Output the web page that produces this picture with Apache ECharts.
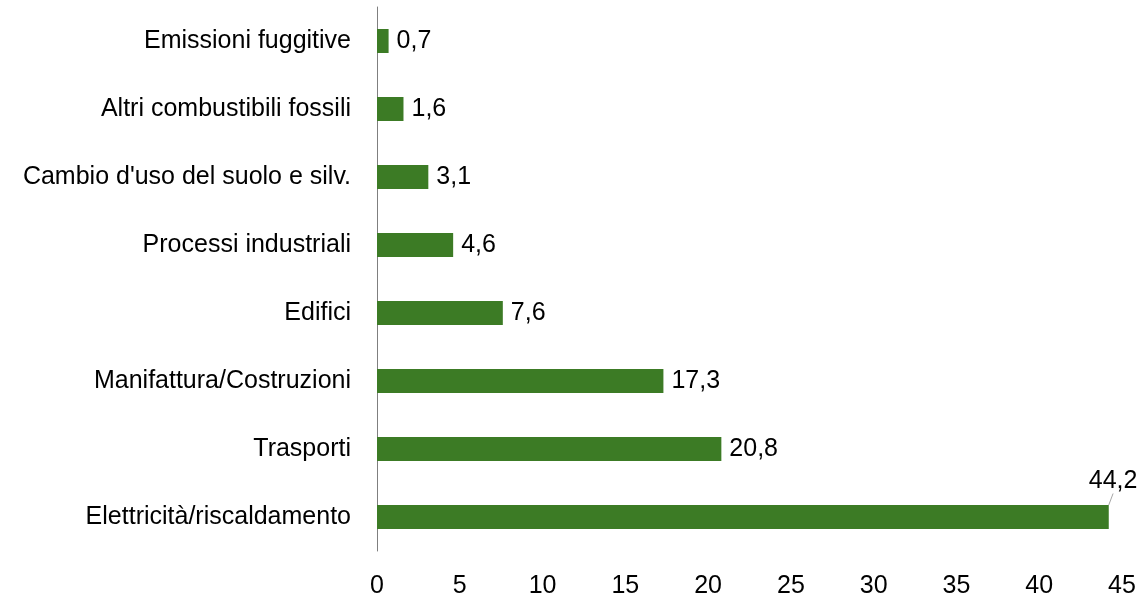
<!DOCTYPE html>
<html>
<head>
	<meta charset="utf-8">
	<title></title>
	<style>
		html, body { margin: 0; padding: 0; background: #fff; }
		#chart { width: 1145px; height: 603px; }
	</style>
</head>
<body>
<div id="chart"></div>
<script src="https://cdn.jsdelivr.net/npm/echarts@6/dist/echarts.min.js"></script>
<script type="text/javascript">
	// categories from bottom to top (as ECharts draws the y axis)
	var categories = ['Elettricità/riscaldamento', 'Trasporti', 'Manifattura/Costruzioni', 'Edifici',
		'Processi industriali', "Cambio d'uso del suolo e silv.", 'Altri combustibili fossili', 'Emissioni fuggitive'];
	var values = [44.2, 20.8, 17.3, 7.6, 4.6, 3.1, 1.6, 0.7];
	var xTicks = [0, 5, 10, 15, 20, 25, 30, 35, 40, 45];

	var font = "'Liberation Sans', Arial, sans-serif";

	var chart = echarts.init(document.getElementById('chart'), null, {renderer: 'canvas'});
	chart.setOption({
		animation: false,
		grid: { left: 377, right: 23, top: 7, bottom: 52 },
		xAxis: {
			type: 'value',
			min: xTicks[0],
			max: xTicks[xTicks.length - 1],
			interval: 5,
			axisLine: { show: false },
			axisTick: { show: false },
			splitLine: { show: false },
			axisLabel: { color: '#000', fontSize: 25, fontFamily: font, margin: 23 }
		},
		yAxis: {
			type: 'category',
			data: categories,
			axisLine: { show: true, lineStyle: { color: '#7f7f7f', width: 1 } },
			axisTick: { show: false },
			axisLabel: { color: '#000', fontSize: 25, fontFamily: font, margin: 26, padding: [3, 0, 0, 0] }
		},
		series: [{
			type: 'bar',
			data: values.map(function (v, i) {
				var d = { value: v };
				if (i === 0) {
					// the longest bar has its label lifted above the bar end
					d.labelLine = { show: true, lineStyle: { color: '#a6a6a6', width: 1 } };
				}
				return d;
			}),
			barWidth: 24,
			itemStyle: { color: '#3c7b25' },
			label: {
				show: true,
				position: 'right',
				distance: 8,
				color: '#000',
				fontSize: 25,
				fontFamily: font,
				formatter: function (p) { return String(p.value).replace('.', ','); }
			},
			labelLayout: function (p) {
				if (p.dataIndex === 0) {
					return { dx: -28, dy: -36 };
				}
				return {};
			}
		}]
	});
</script>
</body>
</html>
